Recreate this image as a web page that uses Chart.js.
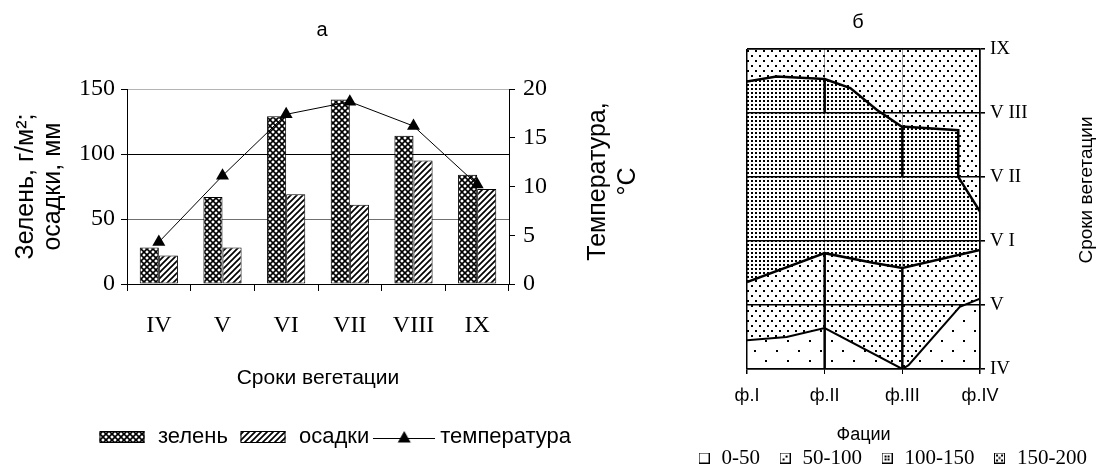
<!DOCTYPE html>
<html><head><meta charset="utf-8">
<script src="https://cdn.jsdelivr.net/npm/chart.js@4"></script>
<style>
html,body{margin:0;padding:0;background:#fff;overflow:hidden;}
#wrap{position:relative;width:1105px;height:473px;overflow:hidden;background:#fff;}
#c1{position:absolute;left:0;top:0;}
#c2{position:absolute;left:611px;top:0;}
</style></head><body>
<div id="wrap"><canvas id="c1" width="644" height="473"></canvas><canvas id="c2" width="494" height="473"></canvas></div>
<script>
// ---------- data: chart "а" ----------
const categories = ['IV', 'V', 'VI', 'VII', 'VIII', 'IX'];
const greenMass = [28, 67, 129, 142, 114, 84];
const precipitation = [22, 28, 69, 61, 95, 73];
const temperature = [4.3, 11.1, 17.4, 18.7, 16.2, 10.2];
const seriesNames = ['зелень', 'осадки', 'температура'];
const leftTitle = ['Зелень, г/м²;', 'осадки, мм'];
const rightTitle = ['Температура,', '°С'];

// ---------- data: chart "б" ----------
const facies = ['ф.I', 'ф.II', 'ф.III', 'ф.IV'];
const months = ['IV', 'V', 'V I', 'V II', 'V III', 'IX'];
const bandNames = ['0-50', '50-100', '100-150', '150-200'];
const lowerEdgeX = [1, 1.51, 2, 3, 3.08, 3.74, 4];
const lowerEdgeY = [4.45, 4.50, 4.64, 4.0, 4.06, 4.97, 5.10];
const middleEdgeX = [1, 2, 2.62, 3, 4];
const middleEdgeY = [5.36, 5.81, 5.66, 5.58, 5.86];
const upperEdgeX = [1, 1.38, 2, 2.33, 2.67, 2.99, 3.72, 3.72, 4];
const upperEdgeY = [8.49, 8.57, 8.53, 8.39, 8.05, 7.79, 7.73, 7.0, 6.46];
const topEdgeX = [1, 4];
const topEdgeY = [9, 9];
const stepX = [2, 3, 2, 3];
const stepTop = [8.53, 7.79, 5.81, 5.58];
const stepBottom = [8.0, 7.0, 4, 4];

const SANS = "'Liberation Sans', Arial, sans-serif";
const SERIF = "'Liberation Serif', 'Times New Roman', serif";
Chart.defaults.font.family = SANS;
Chart.defaults.color = '#000';

function tile(w, h, fn, bg) {
  const c = document.createElement('canvas'); c.width = w; c.height = h;
  const g = c.getContext('2d');
  if (bg) { g.fillStyle = bg; g.fillRect(0, 0, w, h); }
  fn(g); return c;
}
const c1 = document.getElementById('c1');
const c2 = document.getElementById('c2');
const pat = (cv, t) => cv.getContext('2d').createPattern(t, 'repeat');

const crossTile = tile(6, 6, g => { g.strokeStyle = '#000'; g.lineWidth = 1.6; g.beginPath(); g.moveTo(-1, -1); g.lineTo(7, 7); g.moveTo(7, -1); g.lineTo(-1, 7); g.stroke(); }, '#fff');
const diagTile = tile(6, 6, g => { g.strokeStyle = '#000'; g.lineWidth = 1.7; g.beginPath(); g.moveTo(-1, 7); g.lineTo(7, -1); g.moveTo(-1, 1); g.lineTo(1, -1); g.moveTo(5, 7); g.lineTo(7, 5); g.stroke(); }, '#fff');
const crossPat = pat(c1, crossTile);
const diagPat = pat(c1, diagTile);

function dotTile(w, h, pts) { return tile(w, h, g => { g.fillStyle = '#000'; pts.forEach(p => g.fillRect(p[0], p[1], 2, 2)); }); }
const sparsePat = pat(c2, dotTile(22, 20, [[0, 0], [11, 10]]));
const medPat = pat(c2, dotTile(8, 10, [[0, 0], [4, 5]]));
const densePat = pat(c2, dotTile(4, 4, [[0, 0]]));

// legend images, chart a
const tmpCtx = document.createElement('canvas').getContext('2d');
function barLegend(t) { return tile(50, 12, g => { g.fillStyle = tmpCtx.createPattern(t, 'repeat'); g.fillRect(2.5, 0, 45, 12); g.strokeStyle = '#000'; g.lineWidth = 1; g.strokeRect(3, 0.5, 44, 11); }); }
const lineLegend = tile(62, 16, g => { g.strokeStyle = '#000'; g.lineWidth = 1; g.beginPath(); g.moveTo(0, 9.5); g.lineTo(62, 9.5); g.stroke(); g.fillStyle = '#000'; g.beginPath(); g.moveTo(31, 2); g.lineTo(37.5, 13.5); g.lineTo(24.5, 13.5); g.closePath(); g.fill(); });
const legendA = [barLegend(crossTile), barLegend(diagTile), lineLegend];

// legend images, chart б
function bandBox(pts) { return tile(11, 11, g => { g.fillStyle = '#fff'; g.fillRect(0, 0, 11, 11); g.strokeStyle = '#000'; g.lineWidth = 1; g.strokeRect(0.5, 0.5, 10, 10); g.fillStyle = '#000'; pts.forEach(p => g.fillRect(p[0], p[1], 2, 2)); }); }
const legendB = [bandBox([]), bandBox([[3, 6], [6, 3]]), bandBox([[3, 3], [6, 3], [3, 6], [6, 6]]), bandBox([[2, 2], [7, 2], [4.5, 4.5], [2, 7], [7, 7]])];

const sideTitle = {
  id: 'sideTitle',
  afterLayout(chart, args, o) {
    if (o.legendShift && chart.legend) { chart.legend.left += o.legendShift; chart.legend.right += o.legendShift; }
  },
  afterDraw(chart, args, o) {
    const ctx = chart.ctx, s = chart.scales[o.scale], ca = chart.chartArea;
    ctx.save(); ctx.fillStyle = '#000'; ctx.font = o.font; ctx.textAlign = 'center'; ctx.textBaseline = 'middle';
    o.lines.forEach((t, i) => {
      ctx.save(); ctx.translate(s.right - o.inset + i * o.gap, (ca.top + ca.bottom) / 2 + o.shift);
      ctx.rotate(-Math.PI / 2); ctx.fillText(t, 0, 0); ctx.restore();
    });
    ctx.restore();
  }
};

const gridShade = { 0: '#000', 50: '#707070', 100: '#000', 150: '#b4b4b4' };

new Chart(c1, {
  type: 'bar',
  plugins: [sideTitle],
  data: {
    labels: categories,
    datasets: [
      { type: 'bar', label: seriesNames[0], data: greenMass, backgroundColor: crossPat, borderColor: '#000', borderWidth: 1, borderSkipped: false, yAxisID: 'y', order: 2, categoryPercentage: 0.6, barPercentage: 1 },
      { type: 'bar', label: seriesNames[1], data: precipitation, backgroundColor: diagPat, borderColor: '#000', borderWidth: 1, borderSkipped: false, yAxisID: 'y', order: 2, categoryPercentage: 0.6, barPercentage: 1 },
      { type: 'line', label: seriesNames[2], data: temperature, yAxisID: 'y2', borderColor: '#000', borderWidth: 1, pointStyle: 'triangle', pointRadius: 7.5, pointBackgroundColor: '#000', pointBorderColor: '#000', pointBorderWidth: 0, tension: 0, order: 0 }
    ]
  },
  options: {
    responsive: false, animation: false, events: [], devicePixelRatio: 1,
    layout: { padding: { left: 0, right: 0, top: 0, bottom: 15 } },
    plugins: {
      tooltip: { enabled: false },
      title: { display: true, text: 'а', font: { family: SANS, size: 20, weight: 'normal' }, color: '#000', padding: { top: 18, bottom: 47 } },
      legend: {
        position: 'bottom',
        labels: {
          usePointStyle: true, pointStyleWidth: 50, padding: 10, color: '#000',
          font: { family: SANS, size: 22 },
          generateLabels: ch => ch.data.datasets.map((ds, i) => ({ text: ds.label, pointStyle: legendA[i], fillStyle: 'rgba(0,0,0,0)', strokeStyle: 'rgba(0,0,0,0)', lineWidth: 0, hidden: false, datasetIndex: i, fontColor: '#000' }))
        }
      },
      sideTitle: { scale: 'y2', lines: rightTitle, inset: 46, gap: 30, shift: -5, font: "25px " + SANS, legendShift: 12 }
    },
    scales: {
      x: {
        grid: { offset: true, drawOnChartArea: false, tickLength: 7, color: '#000', tickColor: '#000' },
        border: { color: '#000', width: 1 },
        ticks: { font: { family: SERIF, size: 24 }, color: '#000', padding: 20 },
        title: { display: true, text: 'Сроки вегетации', font: { family: SANS, size: 21 }, color: '#000', padding: { top: 0, bottom: 25.4 } },
        afterFit: s => { s.height = 132; }
      },
      y: {
        position: 'left', min: 0, max: 150,
        ticks: { stepSize: 50, font: { family: SERIF, size: 24 }, color: '#000', padding: 6 },
        grid: { color: c => gridShade[c.tick && c.tick.value] || '#000', tickColor: '#000', tickLength: 6, lineWidth: 1 },
        border: { color: '#000', width: 1 },
        title: { display: true, text: leftTitle, font: { family: SANS, size: 25, lineHeight: 1.1 }, color: '#000', padding: { top: 12, bottom: 0 } },
        afterFit: s => { s.width = 127; }
      },
      y2: {
        position: 'right', min: 0, max: 20,
        ticks: { stepSize: 5, font: { family: SERIF, size: 24 }, color: '#000', padding: 8 },
        grid: { drawOnChartArea: false, tickLength: 6, color: '#000', tickColor: '#000' },
        border: { color: '#000', width: 1 },
        afterFit: s => { s.width = 135; }
      }
    }
  }
});

const toPoints = (xs, ys) => xs.map((x, i) => ({ x: x, y: ys[i] }));
const edgeStyle = { borderColor: '#000', pointRadius: 0, tension: 0, xAxisID: 'x', yAxisID: 'y' };
const stepSets = stepX.map((x, i) => Object.assign({ label: 'step' + i, data: [{ x: x, y: stepTop[i] }, { x: x, y: stepBottom[i] }], fill: false, borderWidth: 2.5 }, edgeStyle));

new Chart(c2, {
  type: 'line',
  plugins: [sideTitle],
  data: {
    datasets: [
      Object.assign({ label: 'lower', data: toPoints(lowerEdgeX, lowerEdgeY), fill: 'start', backgroundColor: sparsePat, borderWidth: 2 }, edgeStyle),
      Object.assign({ label: 'middle', data: toPoints(middleEdgeX, middleEdgeY), fill: '-1', backgroundColor: medPat, borderWidth: 2.5 }, edgeStyle),
      Object.assign({ label: 'upper', data: toPoints(upperEdgeX, upperEdgeY), fill: '-1', backgroundColor: densePat, borderWidth: 2.5 }, edgeStyle),
      Object.assign({ label: 'top', data: toPoints(topEdgeX, topEdgeY), fill: '-1', backgroundColor: medPat, borderWidth: 1 }, edgeStyle)
    ].concat(stepSets)
  },
  options: {
    responsive: false, animation: false, events: [], devicePixelRatio: 1,
    layout: { padding: { left: 0, right: 0, top: 0, bottom: -5.5 } },
    plugins: {
      tooltip: { enabled: false },
      title: { display: true, text: 'б', font: { family: SANS, size: 20, weight: 'normal' }, color: '#000', padding: { top: 10, bottom: 15 } },
      legend: {
        position: 'bottom',
        align: 'end',
        labels: {
          usePointStyle: true, pointStyleWidth: 14, padding: 18, color: '#000',
          font: { family: SERIF, size: 21 },
          generateLabels: () => bandNames.map((t, i) => ({ text: t, pointStyle: legendB[i], fillStyle: 'rgba(0,0,0,0)', strokeStyle: 'rgba(0,0,0,0)', lineWidth: 0, hidden: false, datasetIndex: i, fontColor: '#000' }))
        }
      },
      sideTitle: { scale: 'y', lines: ['Сроки вегетации'], inset: 18, gap: 0, shift: -19, font: "19px " + SANS, legendShift: 0 }
    },
    scales: {
      x: {
        type: 'linear', min: 1, max: 4,
        ticks: { stepSize: 1, callback: v => facies[v - 1], font: { family: SANS, size: 18 }, color: '#000', padding: 11 },
        grid: { color: c => (c.tick && (c.tick.value === 2 || c.tick.value === 3)) ? '#a0a0a0' : '#000', lineWidth: c => (c.tick && (c.tick.value === 2 || c.tick.value === 3)) ? 1 : 1.5, tickColor: '#000', tickLength: 5 },
        border: { color: '#000', width: 1.5 },
        title: { display: true, text: 'Фации', font: { family: SANS, size: 18 }, color: '#000', padding: { top: 0, bottom: -16 } },
        afterFit: s => { s.height = 60.5; }
      },
      yLeftSpace: {
        position: 'left', min: 0, max: 1,
        ticks: { display: false },
        grid: { display: false, drawTicks: false },
        border: { display: false },
        afterFit: s => { s.width = 136; }
      },
      y: {
        position: 'right', min: 4, max: 9,
        ticks: { stepSize: 1, callback: v => months[v - 4], font: { family: SERIF, size: 19 }, color: '#000', padding: 5 },
        grid: { color: '#000', lineWidth: 1.6, tickColor: '#000', tickLength: 5 },
        border: { color: '#000', width: 1.5 },
        afterFit: s => { s.width = 125; }
      }
    }
  }
});
</script>
</body></html>
